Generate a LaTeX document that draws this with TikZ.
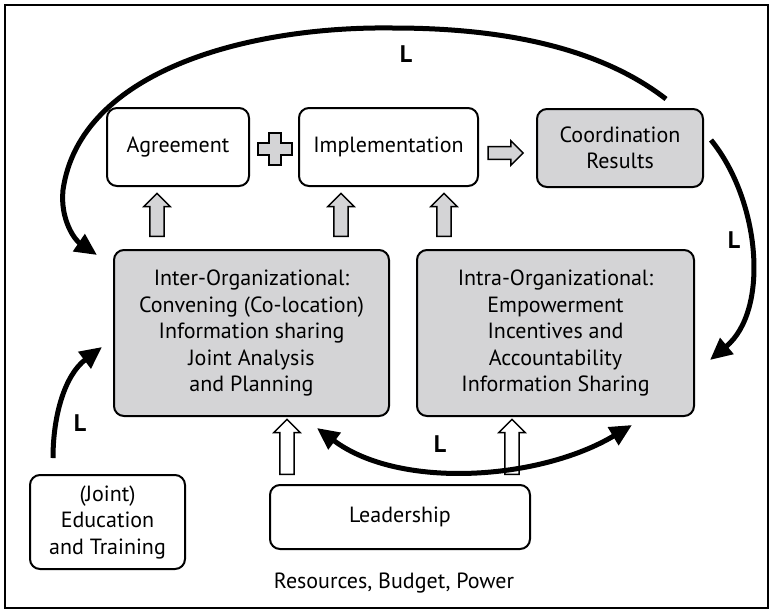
\documentclass[tikz,border=0pt]{standalone}
\usepackage{fontspec}
\setmainfont{PT Sans}
\usetikzlibrary{arrows.meta, shapes.arrows, positioning}
\definecolor{boxgray}{RGB}{212,212,214}
\tikzset{
    box/.style={draw, line width=1pt, rounded corners=5pt, align=center,
        inner sep=0pt, font=\fontsize{11}{13.25}\selectfont},
    grbox/.style={box, fill=boxgray},
    loopL/.style={line width=2.5pt, -{Triangle[length=11pt,width=10pt]}},
    loopLL/.style={line width=2.5pt, {Triangle[length=11pt,width=10pt]}-{Triangle[length=11pt,width=10pt]}},
    lbl/.style={font=\fontsize{12}{14}\selectfont\bfseries},
    blockarr/.style={single arrow, draw, line width=0.75pt, fill=#1,
        inner sep=3.2pt, single arrow head extend=3pt,
        single arrow head indent=0pt},
    blockarr/.default=boxgray
}
\begin{document}
\begin{tikzpicture}[x=0.5pt, y=-0.5pt]
    \useasboundingbox (0,0) rectangle (772,612);
    \draw[line width=1pt] (5,5) rectangle (768,608);
    % top row
    \node[box, minimum width=71pt, minimum height=39pt] (agree) at (178,147) {Agreement};
    \node[box, minimum width=89.5pt, minimum height=39pt] (impl) at (388.5,147) {Implementation};
    \node[grbox, minimum width=83pt, minimum height=39pt] (coord) at (620,148) {Coordination\\Results};
    % middle row
    \node[grbox, minimum width=137.5pt, minimum height=83pt] (inter) at (251.5,333)
        {Inter-Organizational:\\Convening (Co-location)\\Information sharing\\Joint Analysis\\and Planning};
    \node[grbox, minimum width=138.5pt, minimum height=83pt] (intra) at (555.5,333)
        {Intra-Organizational:\\Empowerment\\Incentives and\\Accountability\\Information Sharing};
    % bottom row
    \node[box, minimum width=77.5pt, minimum height=47pt] (edu) at (107.5,522) {(Joint)\\Education\\and Training};
    \node[box, minimum width=130pt, minimum height=32pt] (lead) at (400,517) {Leadership};
    \node[font=\fontsize{11}{13.25}\selectfont] (res) at (394,583) {Resources, Budget, Power};
    % plus and block arrows
    \filldraw[fill=boxgray, line width=0.75pt]
        (269,133) -- (281,133) -- (281,143) -- (292,143) -- (292,155) -- (281,155) -- (281,165)
        -- (269,165) -- (269,155) -- (258,155) -- (258,143) -- (269,143) -- cycle;
    \node[blockarr, minimum height=17.5pt, inner sep=2.8pt] (ra) at (502.5,153) {};
    \node[blockarr, rotate=90, minimum height=21.5pt] (ua1) at (157,218.5) {};
    \node[blockarr, rotate=90, minimum height=21.5pt] (ua2) at (341,218.5) {};
    \node[blockarr, rotate=90, minimum height=21.5pt] (ua3) at (444,218.5) {};
    \node[blockarr=white, rotate=90, minimum height=27.5pt] (ha1) at (287,450.5) {};
    \node[blockarr=white, rotate=90, minimum height=27.5pt] (ha2) at (512,450.5) {};
    % learning loops
    \coordinate (t1) at (666,99);
    \coordinate (t2) at (97,255);
    \coordinate (r1) at (711,140);
    \coordinate (r2) at (710,360);
    \coordinate (l1) at (53,458);
    \coordinate (l2) at (102,347);
    \coordinate (b1) at (317,428);
    \coordinate (b2) at (632,425);
    \draw[loopL] (t1) .. controls (590,40) and (480,28) .. (393,28)
        .. controls (250,26) and (80,70) .. (63,190)
        .. controls (60,220) and (75,240) .. (t2);
    \draw[loopL] (r1) .. controls (760,200) and (770,310) .. (r2);
    \draw[loopL] (l1) .. controls (53,415) and (65,375) .. (l2);
    \draw[loopLL] (b1) .. controls (400,490) and (540,480) .. (b2);
    \node[lbl] (Ltop) at (406,54) {L};
    \node[lbl] (Lright) at (734,240) {L};
    \node[lbl] (Lleft) at (80,423) {L};
    \node[lbl] (Lbot) at (440,444) {L};
\end{tikzpicture}
\end{document}
